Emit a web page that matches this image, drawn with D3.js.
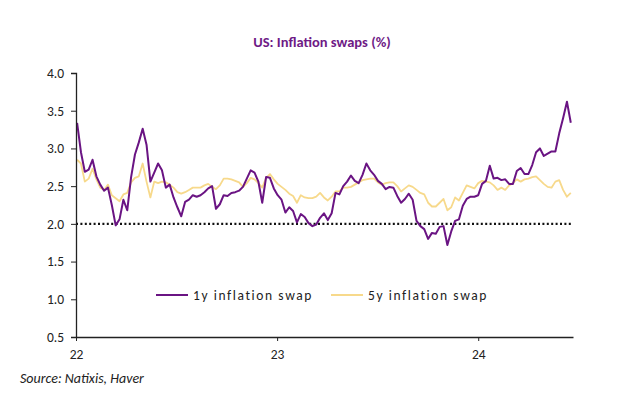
<!DOCTYPE html>
<html>
<head>
<meta charset="utf-8">
<script src="https://cdn.jsdelivr.net/npm/d3@7"></script>
<style>
  html, body { margin: 0; padding: 0; background: #ffffff; }
  svg { display: block; }
  text { font-family: Carlito, Lato, "Open Sans", sans-serif; }
</style>
</head>
<body>
<svg id="chart" width="643" height="398"></svg>
<script>
// ---- data (weekly observations, starting Monday 3 Jan 2022) ----
const seriesNames = ["1y inflation swap", "5y inflation swap"];
const startDate = "2022-01-03";
const swap1y = [
  3.34, 2.95, 2.69, 2.72, 2.85, 2.63, 2.52, 2.44, 2.48, 2.25,
  1.98, 2.06, 2.32, 2.18, 2.62, 2.92, 3.08, 3.26, 3.05, 2.56,
  2.68, 2.80, 2.71, 2.48, 2.52, 2.35, 2.22, 2.10, 2.29, 2.32,
  2.38, 2.36, 2.38, 2.42, 2.47, 2.50, 2.20, 2.26, 2.38, 2.37,
  2.41, 2.42, 2.44, 2.49, 2.60, 2.71, 2.68, 2.56, 2.28, 2.62,
  2.61, 2.47, 2.38, 2.32, 2.15, 2.22, 2.17, 2.02, 2.13, 2.09,
  2.01, 1.97, 1.99, 2.08, 2.14, 2.05, 2.14, 2.41, 2.39, 2.50,
  2.56, 2.64, 2.57, 2.54, 2.65, 2.80, 2.71, 2.65, 2.57, 2.53,
  2.46, 2.49, 2.48, 2.37, 2.28, 2.33, 2.40, 2.32, 2.04, 1.97,
  1.93, 1.80, 1.88, 1.87, 1.96, 1.97, 1.72, 1.90, 2.04, 2.06,
  2.24, 2.33, 2.36, 2.36, 2.38, 2.53, 2.57, 2.77, 2.60, 2.61,
  2.58, 2.59, 2.53, 2.53, 2.70, 2.74, 2.66, 2.66, 2.78, 2.95,
  3.00, 2.90, 2.93, 2.96, 2.96, 3.20, 3.40, 3.62, 3.34
];
const swap5y = [
  2.85, 2.80, 2.56, 2.60, 2.73, 2.59, 2.48, 2.45, 2.52, 2.38,
  2.34, 2.30, 2.39, 2.41, 2.55, 2.61, 2.63, 2.80, 2.56, 2.35,
  2.56, 2.54, 2.56, 2.55, 2.52, 2.48, 2.42, 2.40, 2.42, 2.45,
  2.48, 2.48, 2.48, 2.51, 2.53, 2.49, 2.46, 2.51, 2.60, 2.60,
  2.59, 2.57, 2.55, 2.49, 2.54, 2.61, 2.59, 2.54, 2.48, 2.61,
  2.66, 2.59, 2.53, 2.49, 2.45, 2.40, 2.37, 2.28, 2.38, 2.35,
  2.34, 2.34, 2.36, 2.41, 2.35, 2.31, 2.36, 2.43, 2.43, 2.48,
  2.48, 2.49, 2.52, 2.55, 2.58, 2.59, 2.60, 2.60, 2.55, 2.52,
  2.54, 2.55, 2.55, 2.50, 2.43, 2.47, 2.51, 2.49, 2.45, 2.41,
  2.39, 2.28, 2.23, 2.23, 2.28, 2.33, 2.18, 2.22, 2.35, 2.31,
  2.41, 2.51, 2.49, 2.47, 2.54, 2.57, 2.56, 2.55, 2.51, 2.45,
  2.48, 2.45, 2.51, 2.54, 2.59, 2.56, 2.59, 2.60, 2.62, 2.63,
  2.58, 2.53, 2.49, 2.48, 2.56, 2.58, 2.45, 2.36, 2.41
];
const yTicks = [0.5, 1.0, 1.5, 2.0, 2.5, 3.0, 3.5, 4.0];
const xTickYears = ["2022-01-01", "2023-01-01", "2024-01-01"];
const xDomain = ["2022-01-01", "2024-06-21"];
const refLevel = 2.0;
const titleText = "US: Inflation swaps (%)";
const sourceText = "Source: Natixis, Haver";

// ---- styles ----
const colors = ["#6a1483", "#f7d98b"];
const parse = d3.timeParse("%Y-%m-%d");
const dates = d3.range(swap1y.length).map(i => d3.timeDay.offset(parse(startDate), 7 * i));

const svg = d3.select("#chart");
const x = d3.scaleTime().domain(xDomain.map(parse)).range([76, 573]);
const y = d3.scaleLinear().domain([0.5, 4.0]).range([337, 73]);

// title
svg.append("text")
  .attr("x", 322).attr("y", 47)
  .attr("text-anchor", "middle")
  .attr("font-size", 14.5).attr("font-weight", "bold")
  .attr("fill", "#6e1a86")
  .text(titleText);

// reference dotted line at 2.0
svg.append("line")
  .attr("x1", x.range()[0]).attr("x2", x.range()[1])
  .attr("y1", y(refLevel)).attr("y2", y(refLevel))
  .attr("stroke", "#111").attr("stroke-width", 2.2)
  .attr("stroke-dasharray", "2,2.4");

// lines
const line = d3.line().x((d, i) => x(dates[i])).y(d => y(d));
[swap5y, swap1y].forEach((s, k) => {
  const ci = k === 0 ? 1 : 0;
  svg.append("path")
    .datum(s)
    .attr("fill", "none")
    .attr("stroke", colors[ci])
    .attr("stroke-width", ci === 0 ? 2 : 1.8)
    .attr("stroke-linejoin", "round")
    .attr("d", line);
});

// y axis
const yAxis = svg.append("g")
  .attr("transform", `translate(${x.range()[0]},0)`)
  .call(d3.axisLeft(y).tickValues(yTicks).tickFormat(d3.format(".1f")).tickSize(5).tickPadding(7));
yAxis.select(".domain").attr("stroke", "#222").attr("stroke-width", 1.3);
yAxis.selectAll(".tick line").attr("stroke", "#222");
yAxis.selectAll("text").attr("font-size", 13.5).attr("fill", "#222")
  .attr("font-family", "Carlito, Lato, sans-serif");

// x axis
const xAxis = svg.append("g")
  .attr("transform", `translate(0,${y.range()[0]})`)
  .call(d3.axisBottom(x).tickValues(xTickYears.map(parse)).tickFormat(d3.timeFormat("%y")).tickSize(4).tickSizeOuter(0).tickPadding(8));
xAxis.select(".domain").attr("stroke", "#222").attr("stroke-width", 1.5);
xAxis.selectAll(".tick line").attr("stroke", "#222");
xAxis.selectAll("text").attr("font-size", 13.5).attr("fill", "#222")
  .attr("font-family", "Carlito, Lato, sans-serif");

// legend
const legendItems = [
  { name: seriesNames[0], color: colors[0], x: 156 },
  { name: seriesNames[1], color: colors[1], x: 331 }
];
legendItems.forEach(d => {
  svg.append("line")
    .attr("x1", d.x).attr("x2", d.x + 32)
    .attr("y1", 295).attr("y2", 295)
    .attr("stroke", d.color).attr("stroke-width", 2);
  svg.append("text")
    .attr("x", d.x + 37).attr("y", 300)
    .attr("font-size", 13.5).attr("fill", "#222")
    .attr("letter-spacing", "1.6px")
    .text(d.name);
});

// source
svg.append("text")
  .attr("x", 20).attr("y", 383)
  .attr("font-size", 14).attr("font-style", "italic").attr("fill", "#222")
  .text(sourceText);
</script>
</body>
</html>
